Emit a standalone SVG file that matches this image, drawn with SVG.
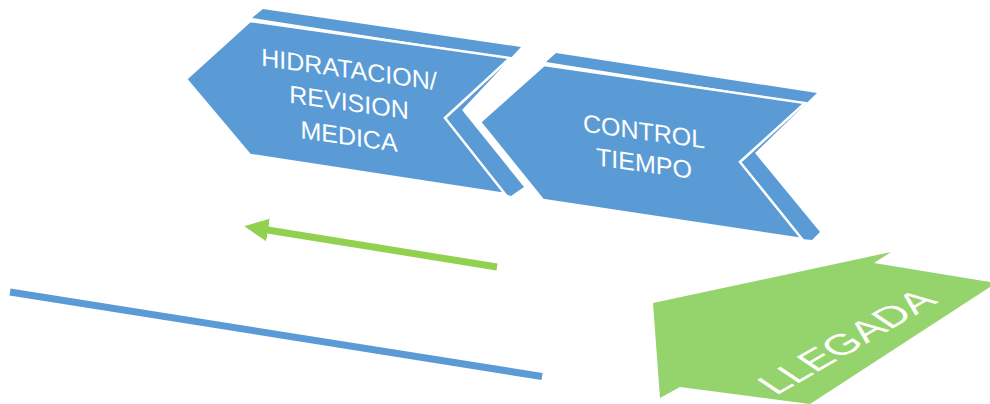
<svg xmlns="http://www.w3.org/2000/svg" width="990" height="404" viewBox="0 0 990 404">
  <style>
    .ext { fill: #5B9BD5; }
    .front { fill: #5B9BD5; stroke: #ffffff; stroke-width: 2.5; stroke-linejoin: miter; }
    .lbl { font-family: "Liberation Sans", Arial, sans-serif; font-size: 25px; fill: #ffffff; text-anchor: middle; }
    .big { font-family: "Liberation Sans", Arial, sans-serif; font-size: 34px; fill: #ffffff; }
    .green-line { stroke: #92D050; stroke-width: 7; fill: none; stroke-linecap: butt; }
    .blue-line { stroke: #5B9BD5; stroke-width: 7; fill: none; stroke-linecap: butt; }
  </style>
  <defs>
    <marker id="greenHead" markerUnits="userSpaceOnUse" viewBox="-2 -12 26 24" markerWidth="26" markerHeight="24" refX="0" refY="0" orient="auto">
      <path d="M-2,-11.5 L22,0 L-2,11.5 z" fill="#92D050"/>
    </marker>
  </defs>
  <rect width="990" height="404" fill="#ffffff"/>

  <g id="node-hidratacion">
    <polygon class="ext" points="252,18 263,9 521,47 462,110 524,187 511,196 505,194 445,118 510,58"/>
    <polygon class="front" points="250,21 510,58 445,118 505,194 250,155 186,79"/>
    <g transform="matrix(1 0.14 0 1 0 -48.86)">
      <text class="lbl" x="349" y="78">HIDRATACION/</text>
      <text class="lbl" x="349" y="111">REVISION</text>
      <text class="lbl" x="349" y="145">MEDICA</text>
    </g>
  </g>

  <g id="node-control">
    <polygon class="ext" points="546,62 556,53 817,93 755,153 820,232 812,240 802,239 740,162 805,103"/>
    <polygon class="front" points="544,65 805,103 740,162 802,239 543,200 480,122"/>
    <g transform="matrix(1 0.14 0 1 0 -90.16)">
      <text class="lbl" x="644" y="140">CONTROL</text>
      <text class="lbl" x="644" y="172">TIEMPO</text>
    </g>
  </g>

  <g id="node-llegada">
    <polygon points="653,303 891,252 874,263 990,282 990,287 810,404 680,387 660,398" fill="#95D46C"/>
    <text class="big" transform="matrix(1.039 -0.6 0.921 0.622 776 396)" x="0" y="0">LLEGADA</text>
  </g>

  <g id="connectors">
    <line class="green-line" x1="497" y1="267" x2="266" y2="229.7" marker-end="url(#greenHead)"/>
    <line class="blue-line" x1="10" y1="292" x2="542" y2="376.5"/>
  </g>
</svg>
